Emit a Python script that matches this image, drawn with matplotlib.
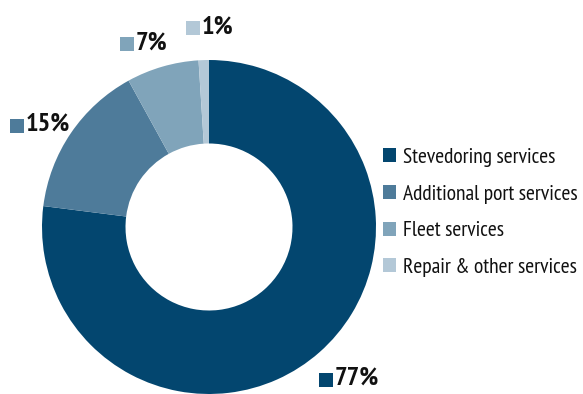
import matplotlib
matplotlib.use("Agg")
import matplotlib.pyplot as plt

categories = ["Stevedoring services", "Additional port services", "Fleet services", "Repair & other services"]
shares = [77, 15, 7, 1]
colors = ["#03466f", "#4e7b9a", "#80a4ba", "#b3c8d7"]

# label anchor points (data units, pie radius = 1)
label_pos = [(0.70, -0.916), (-1.148, 0.605), (-0.491, 1.093), (-0.096, 1.189)]

plt.rcParams["font.family"] = ["PT Sans Narrow", "Roboto Condensed", "DejaVu Sans"]

W, H = 583, 394
fig = plt.figure(figsize=(W / 100, H / 100), dpi=100)
ax = fig.add_axes([0, 0, 1, 1])

cx, cy, r = 209, 227, 167
wedges, _ = ax.pie(shares, colors=colors, startangle=90, counterclock=False,
                   radius=1, wedgeprops=dict(width=0.5, edgecolor="none"))
ax.set_xlim((0 - cx) / r, (W - cx) / r)
ax.set_ylim((cy - H) / r, cy / r)
ax.set_aspect("auto")
ax.axis("off")

for (x, y), v, c in zip(label_pos, shares, colors):
    ax.plot([x], [y], marker="s", ms=9.5, color=c, mew=0, clip_on=False)
    ax.text(x + 0.052, y + 0.01, f"{v}%", fontsize=19, fontweight="bold",
            color="#111111", va="center", ha="left")

leg = ax.legend(wedges, categories, loc="upper left",
                bbox_to_anchor=(383 / W, 1 - 148 / H), bbox_transform=fig.transFigure,
                frameon=False, fontsize=15.5, handlelength=0.62, handleheight=0.62,
                handletextpad=0.3, labelspacing=0.82, borderpad=0, borderaxespad=0)
for t in leg.get_texts():
    t.set_color("#111111")

fig.savefig("out.png", dpi=100)
